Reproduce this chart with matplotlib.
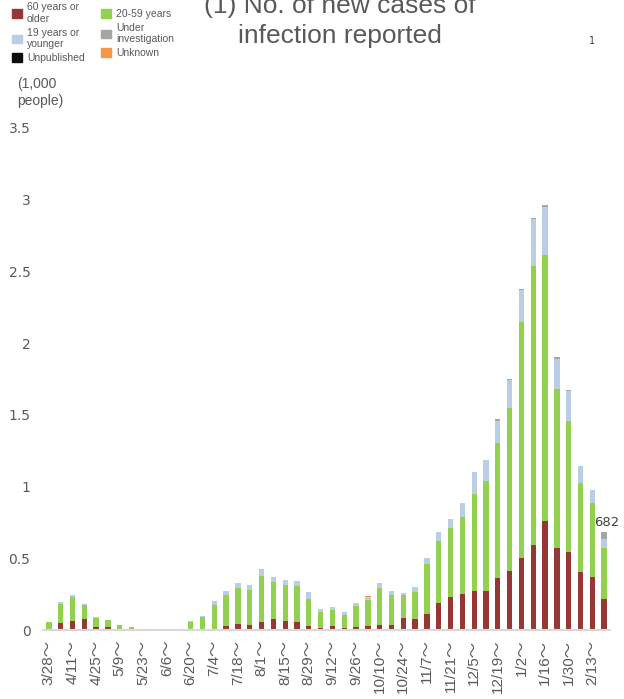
import numpy as np
import matplotlib.pyplot as plt
from matplotlib.patches import Patch

# weekly start dates
weeks = ['3/28', '4/4', '4/11', '4/18', '4/25', '5/2', '5/9', '5/16', '5/23', '5/30',
         '6/6', '6/13', '6/20', '6/27', '7/4', '7/11', '7/18', '7/25', '8/1', '8/8',
         '8/15', '8/22', '8/29', '9/5', '9/12', '9/19', '9/26', '10/3', '10/10', '10/17',
         '10/24', '10/31', '11/7', '11/14', '11/21', '11/28', '12/5', '12/12', '12/19', '12/26',
         '1/2', '1/9', '1/16', '1/23', '1/30', '2/6', '2/13', '2/20']

# new cases, 1,000 people
age_60_plus = [0.000, 0.046, 0.065, 0.079, 0.023, 0.023, 0.009, 0.002, 0.000, 0.001,
               0.001, 0.000, 0.002, 0.001, 0.009, 0.030, 0.044, 0.037, 0.058, 0.074,
               0.063, 0.058, 0.030, 0.012, 0.030, 0.016, 0.021, 0.030, 0.037, 0.037,
               0.086, 0.079, 0.114, 0.190, 0.232, 0.251, 0.272, 0.270, 0.365, 0.411,
               0.500, 0.593, 0.760, 0.574, 0.546, 0.404, 0.372, 0.216]
age_20_59 = [0.053, 0.138, 0.167, 0.095, 0.063, 0.044, 0.024, 0.017, 0.003, 0.006,
             0.008, 0.003, 0.051, 0.089, 0.165, 0.214, 0.251, 0.244, 0.319, 0.263,
             0.253, 0.251, 0.186, 0.116, 0.109, 0.089, 0.146, 0.177, 0.258, 0.207,
             0.158, 0.186, 0.346, 0.433, 0.479, 0.539, 0.679, 0.769, 0.941, 1.139,
             1.648, 1.945, 1.855, 1.107, 0.911, 0.623, 0.511, 0.354]
age_19_under = [0.005, 0.014, 0.012, 0.007, 0.005, 0.005, 0.002, 0.002, 0.000, 0.000,
                0.000, 0.000, 0.007, 0.008, 0.028, 0.028, 0.035, 0.030, 0.046, 0.035,
                0.033, 0.030, 0.051, 0.016, 0.024, 0.021, 0.021, 0.025, 0.035, 0.026,
                0.016, 0.035, 0.040, 0.063, 0.063, 0.093, 0.153, 0.147, 0.154, 0.193,
                0.223, 0.326, 0.337, 0.211, 0.210, 0.117, 0.093, 0.062]
under_investigation = [0, 0, 0, 0, 0, 0, 0, 0, 0, 0,
                       0, 0, 0, 0, 0, 0, 0, 0, 0, 0,
                       0, 0, 0, 0, 0, 0, 0, 0, 0, 0,
                       0, 0, 0, 0, 0, 0, 0, 0, 0.014, 0.007,
                       0.009, 0.009, 0.012, 0.012, 0.009, 0, 0, 0.050]
unknown = [0] * 27 + [0.007] + [0] * 20
unpublished = [0] * 48

last_total = 682

series = [
    (age_60_plus, '60 years or\nolder', '#953735'),
    (age_20_59, '20-59 years', '#92D050'),
    (age_19_under, '19 years or\nyounger', '#B9CDE5'),
    (under_investigation, 'Under\ninvestigation', '#A6A6A6'),
    (unknown, 'Unknown', '#F79646'),
    (unpublished, 'Unpublished', '#0D0D0D'),
]

fig = plt.figure(figsize=(6.24, 6.99), dpi=100)
ax = fig.add_axes([0.0689, 0.0987, 0.9087, 0.7182])

x = np.arange(len(weeks))
bottom = np.zeros(len(weeks))
for vals, lab, col in series:
    vals = np.array(vals, dtype=float)
    ax.bar(x, vals, 0.45, bottom=bottom, color=col, label=lab)
    bottom += vals

ax.set_xlim(-0.5, len(weeks) - 0.5)
ax.set_ylim(0, 3.5)
ax.set_yticks(np.arange(0, 3.51, 0.5))
ax.set_yticklabels(['0', '0.5', '1', '1.5', '2', '2.5', '3', '3.5'])
ax.set_xticks(x[::2])
ax.set_xticklabels([w + '～' for w in weeks[::2]], rotation=90,
                   family=['Liberation Sans', 'Noto Sans CJK JP'])
ax.tick_params(axis='y', length=0, pad=9, labelsize=10, labelcolor='#595959')
ax.tick_params(axis='x', length=0, pad=7, labelsize=11, labelcolor='#595959')
for s in ['top', 'right', 'left']:
    ax.spines[s].set_visible(False)
ax.spines['bottom'].set_color('#D9D9D9')
ax.spines['bottom'].set_linewidth(1.5)

# label for the latest week
ax.annotate(str(last_total), (x[-1], bottom[-1]), xytext=(2, 2), textcoords='offset points',
            ha='center', va='bottom', fontsize=9.5, color='#404040')

fig.text(0.545, 1.008, '(1) No. of new cases of\ninfection reported', ha='center', va='top',
         fontsize=19, color='#595959', family='Liberation Sans', linespacing=1.3)
fig.text(0.944, 0.937, '1', fontsize=7, color='#404040')
fig.text(0.028, 0.846, '(1,000\npeople)', fontsize=10, color='#595959',
         family='Liberation Sans', va='bottom', linespacing=1.2)

h = [Patch(color=c) for _, _, c in series]
l = [lab for _, lab, _ in series]
order = [0, 2, 5, 1, 3, 4]
fig.legend([h[i] for i in order], [l[i] for i in order], loc='upper left',
           bbox_to_anchor=(0.005, 1.01), ncol=2, frameon=False,
           handlelength=0.9, handleheight=0.9, handletextpad=0.5, columnspacing=1.6,
           labelspacing=0.35, prop={'family': 'Liberation Sans', 'size': 7.5},
           labelcolor='#595959')

fig.savefig('out.png', dpi=100)
